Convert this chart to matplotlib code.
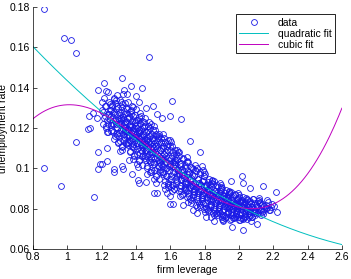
import numpy as np
import matplotlib.pyplot as plt

# firm leverage vs unemployment rate
lev_core = [
    1.21, 1.22, 1.23, 1.24, 1.245, 1.225, 1.235, 1.215, 1.248, 1.238,
    1.252, 1.258, 1.263, 1.267, 1.271, 1.275, 1.279, 1.283, 1.287, 1.291, 1.295, 1.298, 1.256, 1.269, 1.281, 1.293,
    1.301, 1.304, 1.308, 1.311, 1.314, 1.317, 1.320, 1.323, 1.326, 1.329, 1.332, 1.335, 1.338, 1.341, 1.344, 1.347, 1.349, 1.306, 1.318, 1.331, 1.343, 1.312, 1.327, 1.339,
    1.351, 1.354, 1.357, 1.360, 1.363, 1.366, 1.369, 1.372, 1.375, 1.378, 1.381, 1.384, 1.387, 1.390, 1.393, 1.396, 1.399, 1.353, 1.362, 1.371, 1.380, 1.389, 1.398, 1.358, 1.367, 1.376, 1.385, 1.394,
    1.401, 1.404, 1.407, 1.410, 1.413, 1.416, 1.419, 1.422, 1.425, 1.428, 1.431, 1.434, 1.437, 1.440, 1.443, 1.446, 1.449, 1.403, 1.412, 1.421, 1.430, 1.439, 1.448, 1.408, 1.417, 1.426, 1.435, 1.444,
    1.451, 1.454, 1.457, 1.460, 1.463, 1.466, 1.469, 1.472, 1.475, 1.478, 1.481, 1.484, 1.487, 1.490, 1.493, 1.496, 1.499, 1.453, 1.462, 1.471, 1.480, 1.489, 1.498, 1.458, 1.467, 1.476, 1.485, 1.494,
    1.501, 1.504, 1.507, 1.510, 1.513, 1.516, 1.519, 1.522, 1.525, 1.528, 1.531, 1.534, 1.537, 1.540, 1.543, 1.546, 1.549, 1.505, 1.515, 1.527, 1.539, 1.548, 1.511, 1.533,
    1.551, 1.554, 1.557, 1.560, 1.563, 1.566, 1.569, 1.572, 1.575, 1.578, 1.581, 1.584, 1.587, 1.590, 1.593, 1.596, 1.599, 1.556, 1.568, 1.580, 1.592, 1.562,
    1.601, 1.605, 1.609, 1.613, 1.617, 1.621, 1.625, 1.629, 1.633, 1.637, 1.641, 1.645, 1.649, 1.603, 1.615, 1.627, 1.639, 1.611, 1.635, 1.647,
    1.651, 1.655, 1.659, 1.663, 1.667, 1.671, 1.675, 1.679, 1.683, 1.687, 1.691, 1.695, 1.699, 1.653, 1.665, 1.677, 1.689, 1.661, 1.685, 1.697,
    1.701, 1.705, 1.709, 1.713, 1.717, 1.721, 1.725, 1.729, 1.733, 1.737, 1.741, 1.745, 1.749, 1.703, 1.715, 1.727, 1.739, 1.711, 1.735, 1.747,
    1.751, 1.755, 1.759, 1.763, 1.767, 1.771, 1.775, 1.779, 1.783, 1.787, 1.791, 1.795, 1.799, 1.753, 1.765, 1.777, 1.789, 1.761, 1.785, 1.797, 1.757, 1.793,
    1.801, 1.805, 1.809, 1.813, 1.817, 1.821, 1.825, 1.829, 1.833, 1.837, 1.841, 1.845, 1.849, 1.803, 1.815, 1.827, 1.839, 1.811, 1.835, 1.847, 1.807, 1.843,
    1.851, 1.855, 1.859, 1.863, 1.867, 1.871, 1.875, 1.879, 1.883, 1.887, 1.891, 1.895, 1.899, 1.853, 1.865, 1.877, 1.889, 1.861, 1.885, 1.897, 1.857, 1.893,
    1.901, 1.905, 1.909, 1.913, 1.917, 1.921, 1.925, 1.929, 1.933, 1.937, 1.941, 1.945, 1.949, 1.903, 1.915, 1.927, 1.939, 1.911, 1.935, 1.947, 1.907, 1.943,
    1.951, 1.955, 1.959, 1.963, 1.967, 1.971, 1.975, 1.979, 1.983, 1.987, 1.991, 1.995, 1.999, 1.953, 1.965, 1.977, 1.989, 1.961, 1.985, 1.997,
    2.001, 2.005, 2.009, 2.013, 2.017, 2.021, 2.025, 2.029, 2.033, 2.037, 2.041, 2.045, 2.049, 2.003, 2.015, 2.027, 2.039, 2.011,
    2.052, 2.057, 2.062, 2.067, 2.072, 2.077, 2.082, 2.087, 2.092, 2.097, 2.055, 2.070, 2.085,
    2.103, 2.110, 2.117, 2.124, 2.131, 2.138, 2.145, 2.114, 2.128,
    2.158, 2.166, 2.172, 2.185, 2.193, 2.202, 2.163, 2.178,
]
unemp_core = [
    0.128, 0.131, 0.124, 0.127, 0.133, 0.121, 0.118, 0.125, 0.129, 0.122,
    0.126, 0.119, 0.131, 0.122, 0.128, 0.116, 0.124, 0.134, 0.120, 0.127, 0.113, 0.125, 0.129, 0.118, 0.122, 0.130,
    0.122, 0.116, 0.128, 0.119, 0.125, 0.111, 0.132, 0.121, 0.117, 0.127, 0.114, 0.123, 0.120, 0.130, 0.112, 0.118, 0.125, 0.134, 0.109, 0.122, 0.116, 0.124, 0.137, 0.119,
    0.119, 0.113, 0.125, 0.116, 0.122, 0.108, 0.129, 0.118, 0.111, 0.121, 0.115, 0.126, 0.106, 0.120, 0.114, 0.123, 0.117, 0.133, 0.104, 0.127, 0.119, 0.110, 0.124, 0.116, 0.121, 0.131, 0.112, 0.118,
    0.1155, 0.1095, 0.1215, 0.1125, 0.1185, 0.1035, 0.1255, 0.1145, 0.1075, 0.1195, 0.1115, 0.1235, 0.1015, 0.1165, 0.1105, 0.1205, 0.1135, 0.1295, 0.1005, 0.1225, 0.1155, 0.1065, 0.1185, 0.1125, 0.1175, 0.1275, 0.1085, 0.1145,
    0.112, 0.106, 0.118, 0.109, 0.115, 0.100, 0.121, 0.111, 0.104, 0.116, 0.108, 0.120, 0.098, 0.113, 0.107, 0.117, 0.110, 0.125, 0.097, 0.119, 0.112, 0.103, 0.115, 0.109, 0.114, 0.123, 0.105, 0.111,
    0.108, 0.102, 0.114, 0.105, 0.111, 0.096, 0.117, 0.107, 0.100, 0.112, 0.104, 0.116, 0.095, 0.109, 0.103, 0.113, 0.106, 0.121, 0.093, 0.115, 0.099, 0.110, 0.119, 0.101,
    0.104, 0.098, 0.110, 0.101, 0.107, 0.092, 0.113, 0.103, 0.096, 0.108, 0.100, 0.112, 0.091, 0.105, 0.099, 0.109, 0.102, 0.117, 0.090, 0.111, 0.095, 0.115,
    0.101, 0.095, 0.106, 0.098, 0.103, 0.090, 0.109, 0.100, 0.093, 0.104, 0.097, 0.108, 0.089, 0.113, 0.092, 0.102, 0.096, 0.111, 0.105, 0.099,
    0.097, 0.092, 0.102, 0.095, 0.099, 0.087, 0.105, 0.096, 0.090, 0.100, 0.093, 0.103, 0.086, 0.108, 0.089, 0.098, 0.094, 0.101, 0.091, 0.097,
    0.093, 0.088, 0.098, 0.091, 0.095, 0.083, 0.100, 0.092, 0.086, 0.096, 0.089, 0.099, 0.082, 0.103, 0.085, 0.094, 0.090, 0.097, 0.087, 0.093,
    0.091, 0.086, 0.095, 0.089, 0.093, 0.081, 0.098, 0.090, 0.084, 0.094, 0.087, 0.096, 0.080, 0.100, 0.083, 0.092, 0.088, 0.095, 0.085, 0.091, 0.078, 0.099,
    0.088, 0.083, 0.092, 0.086, 0.090, 0.079, 0.095, 0.087, 0.081, 0.091, 0.084, 0.093, 0.078, 0.097, 0.080, 0.089, 0.085, 0.092, 0.082, 0.088, 0.076, 0.094,
    0.085, 0.081, 0.089, 0.083, 0.087, 0.077, 0.092, 0.084, 0.079, 0.088, 0.082, 0.090, 0.076, 0.094, 0.078, 0.086, 0.083, 0.089, 0.080, 0.085, 0.074, 0.091,
    0.0835, 0.0795, 0.0865, 0.0815, 0.0855, 0.0755, 0.0895, 0.0825, 0.0775, 0.0855, 0.0805, 0.0875, 0.0745, 0.0905, 0.0765, 0.0835, 0.0815, 0.0865, 0.0785, 0.0825, 0.0745, 0.0885,
    0.0815, 0.0785, 0.0845, 0.0805, 0.0835, 0.0755, 0.0875, 0.0815, 0.0765, 0.0845, 0.0795, 0.0855, 0.0745, 0.0885, 0.0755, 0.0825, 0.0805, 0.0845, 0.0775, 0.0815,
    0.081, 0.078, 0.084, 0.080, 0.083, 0.075, 0.086, 0.081, 0.076, 0.083, 0.079, 0.085, 0.075, 0.087, 0.077, 0.082, 0.080, 0.084,
    0.081, 0.078, 0.084, 0.080, 0.083, 0.076, 0.085, 0.079, 0.077, 0.082, 0.079, 0.081, 0.078,
    0.081, 0.078, 0.083, 0.080, 0.082, 0.079, 0.080, 0.084, 0.077,
    0.082, 0.0805, 0.0835, 0.081, 0.0825, 0.0815, 0.0845, 0.0795,
]

# second pass over the dense part of the cloud
lev_more = [
    1.202, 1.208, 1.214, 1.219, 1.226, 1.231, 1.237, 1.243, 1.249, 1.205, 1.228, 1.246,
    1.251, 1.255, 1.259, 1.262, 1.266, 1.270, 1.273, 1.277, 1.281, 1.285, 1.289, 1.292, 1.296, 1.299, 1.254, 1.276, 1.288,
    1.302, 1.305, 1.309, 1.313, 1.316, 1.319, 1.322, 1.325, 1.328, 1.331, 1.334, 1.337, 1.340, 1.343, 1.346, 1.349, 1.307, 1.324, 1.336, 1.345,
    1.352, 1.355, 1.358, 1.361, 1.364, 1.367, 1.370, 1.373, 1.376, 1.379, 1.382, 1.385, 1.388, 1.391, 1.394, 1.397, 1.356, 1.368, 1.383, 1.395, 1.365,
    1.402, 1.405, 1.408, 1.411, 1.414, 1.417, 1.420, 1.423, 1.426, 1.429, 1.432, 1.435, 1.438, 1.441, 1.444, 1.447, 1.406, 1.418, 1.433, 1.445, 1.415,
    1.452, 1.455, 1.458, 1.461, 1.464, 1.467, 1.470, 1.473, 1.476, 1.479, 1.482, 1.485, 1.488, 1.491, 1.494, 1.497, 1.456, 1.468, 1.483, 1.495, 1.465,
    1.502, 1.505, 1.508, 1.511, 1.514, 1.517, 1.520, 1.523, 1.526, 1.529, 1.532, 1.535, 1.538, 1.541, 1.544, 1.547, 1.506, 1.518, 1.533, 1.545,
    1.552, 1.555, 1.558, 1.561, 1.564, 1.567, 1.570, 1.573, 1.576, 1.579, 1.582, 1.585, 1.588, 1.591, 1.594, 1.597, 1.556, 1.574, 1.589,
    1.602, 1.606, 1.610, 1.614, 1.618, 1.622, 1.626, 1.630, 1.634, 1.638, 1.642, 1.646, 1.604, 1.620, 1.636, 1.648, 1.612, 1.628,
    1.652, 1.656, 1.660, 1.664, 1.668, 1.672, 1.676, 1.680, 1.684, 1.688, 1.692, 1.696, 1.654, 1.670, 1.686, 1.698, 1.662,
    1.702, 1.706, 1.710, 1.714, 1.718, 1.722, 1.726, 1.730, 1.734, 1.738, 1.742, 1.746, 1.704, 1.720, 1.736, 1.748, 1.712,
    1.752, 1.756, 1.760, 1.764, 1.768, 1.772, 1.776, 1.780, 1.784, 1.788, 1.792, 1.796, 1.754, 1.770, 1.786, 1.798, 1.762, 1.778,
    1.802, 1.806, 1.810, 1.814, 1.818, 1.822, 1.826, 1.830, 1.834, 1.838, 1.842, 1.846, 1.804, 1.820, 1.836, 1.848, 1.812, 1.828,
    1.852, 1.856, 1.860, 1.864, 1.868, 1.872, 1.876, 1.880, 1.884, 1.888, 1.892, 1.896, 1.854, 1.870, 1.886, 1.898, 1.862, 1.878,
    1.902, 1.906, 1.910, 1.914, 1.918, 1.922, 1.926, 1.930, 1.934, 1.938, 1.942, 1.946, 1.904, 1.920, 1.936, 1.948, 1.912, 1.928,
    1.952, 1.956, 1.960, 1.964, 1.968, 1.972, 1.976, 1.980, 1.984, 1.988, 1.992, 1.996, 1.954, 1.970, 1.986, 1.998, 1.962, 1.978,
    2.002, 2.006, 2.010, 2.014, 2.018, 2.022, 2.026, 2.030, 2.034, 2.038, 2.042, 2.046, 2.004, 2.020, 2.036, 2.048,
    2.051, 2.056, 2.061, 2.066, 2.071, 2.076, 2.081, 2.086, 2.091, 2.096, 2.059, 2.079, 2.094,
    2.106, 2.113, 2.121, 2.127, 2.135, 2.142, 2.149, 2.156, 2.119, 2.133,
]
unemp_more = [
    0.129, 0.122, 0.135, 0.126, 0.131, 0.118, 0.138, 0.127, 0.124, 0.133, 0.120, 0.132,
    0.1255, 0.1185, 0.1315, 0.1225, 0.1275, 0.1145, 0.1345, 0.1235, 0.1205, 0.1295, 0.1165, 0.1365, 0.1125, 0.1245, 0.1215, 0.1325, 0.1175,
    0.1175, 0.1265, 0.1135, 0.1225, 0.1305, 0.1105, 0.1245, 0.1195, 0.1285, 0.1155, 0.1325, 0.1205, 0.1125, 0.1235, 0.1165, 0.1275, 0.1085, 0.1255, 0.1185, 0.1295,
    0.1195, 0.1125, 0.1255, 0.1165, 0.1215, 0.1085, 0.1285, 0.1175, 0.1145, 0.1235, 0.1105, 0.1305, 0.1065, 0.1185, 0.1155, 0.1265, 0.1115, 0.1205, 0.1045, 0.1225, 0.1135,
    0.111, 0.120, 0.107, 0.116, 0.124, 0.104, 0.118, 0.113, 0.122, 0.109, 0.126, 0.114, 0.106, 0.117, 0.110, 0.121, 0.102, 0.119, 0.112, 0.123, 0.115,
    0.112, 0.105, 0.118, 0.109, 0.114, 0.101, 0.121, 0.110, 0.107, 0.116, 0.103, 0.122, 0.099, 0.111, 0.108, 0.119, 0.104, 0.113, 0.098, 0.115, 0.106,
    0.103, 0.112, 0.099, 0.108, 0.116, 0.096, 0.110, 0.105, 0.114, 0.101, 0.117, 0.106, 0.098, 0.109, 0.102, 0.113, 0.095, 0.111, 0.104, 0.115,
    0.105, 0.098, 0.111, 0.102, 0.107, 0.094, 0.113, 0.103, 0.100, 0.109, 0.096, 0.114, 0.093, 0.104, 0.101, 0.111, 0.097, 0.106, 0.092,
    0.096, 0.105, 0.092, 0.101, 0.108, 0.090, 0.103, 0.098, 0.107, 0.094, 0.109, 0.099, 0.091, 0.102, 0.095, 0.106, 0.089, 0.104,
    0.0975, 0.0905, 0.1025, 0.0945, 0.0995, 0.0875, 0.1045, 0.0955, 0.0925, 0.1015, 0.0895, 0.1055, 0.0865, 0.0965, 0.0935, 0.1035, 0.0915,
    0.0895, 0.0985, 0.0865, 0.0945, 0.1005, 0.0845, 0.0965, 0.0915, 0.0995, 0.0875, 0.1015, 0.0925, 0.0835, 0.0955, 0.0885, 0.0985, 0.0905,
    0.091, 0.085, 0.095, 0.088, 0.093, 0.082, 0.097, 0.089, 0.086, 0.094, 0.083, 0.098, 0.081, 0.090, 0.087, 0.096, 0.084, 0.092,
    0.0835, 0.0915, 0.0805, 0.0885, 0.0935, 0.0795, 0.0905, 0.0855, 0.0925, 0.0815, 0.0945, 0.0865, 0.0785, 0.0895, 0.0825, 0.0925, 0.0845, 0.0875,
    0.086, 0.080, 0.089, 0.083, 0.088, 0.078, 0.091, 0.084, 0.081, 0.089, 0.078, 0.092, 0.077, 0.085, 0.082, 0.090, 0.079, 0.087,
    0.0788, 0.0868, 0.0768, 0.0838, 0.0878, 0.0758, 0.0858, 0.0808, 0.0868, 0.0778, 0.0888, 0.0818, 0.0748, 0.0848, 0.0788, 0.0878, 0.0798, 0.0828,
    0.0828, 0.0768, 0.0858, 0.0798, 0.0838, 0.0758, 0.0868, 0.0808, 0.0778, 0.0848, 0.0758, 0.0878, 0.0748, 0.0818, 0.0788, 0.0858, 0.0768, 0.0828,
    0.0775, 0.0835, 0.0755, 0.0815, 0.0845, 0.0755, 0.0825, 0.0785, 0.0835, 0.0765, 0.0855, 0.0795, 0.0745, 0.0815, 0.0775, 0.0845,
    0.0818, 0.0768, 0.0838, 0.0788, 0.0828, 0.0758, 0.0848, 0.0798, 0.0778, 0.0828, 0.0758, 0.0808, 0.0788,
    0.0815, 0.0785, 0.0835, 0.0795, 0.0825, 0.0775, 0.0815, 0.0805, 0.0845, 0.0785,
]

# scattered points away from the main cloud
lev_out = [
    0.866, 0.982, 1.021, 1.052, 1.477, 1.437, 1.32, 1.213, 1.177, 1.225,
    1.608, 1.50, 1.118, 1.13, 1.148, 1.127, 1.171, 1.664, 1.598, 0.866,
    0.961, 1.05, 1.155, 1.18, 1.19, 1.2, 1.18, 1.229, 1.233, 1.273,
    1.273, 1.326, 1.317, 1.375, 1.413, 1.42, 1.505, 1.52, 1.456, 1.598,
    1.617, 1.58, 1.6, 1.675, 1.734, 1.84, 1.908, 1.957, 2.025, 2.103,
    2.07, 2.215, 2.223, 2.18, 2.138, 2.118, 2.064, 2.016, 2.025, 1.953,
    1.889, 1.772, 1.782, 1.717, 1.6, 1.27, 1.29, 1.33, 1.35, 1.37,
    1.40, 1.31, 1.42, 1.46, 1.55, 1.52,
]
unemp_out = [
    0.1789, 0.1648, 0.1636, 0.157, 0.1552, 0.140, 0.145, 0.1425, 0.139, 0.1385,
    0.1334, 0.131, 0.1194, 0.1198, 0.1275, 0.126, 0.1248, 0.1245, 0.126, 0.1003,
    0.0913, 0.1132, 0.0857, 0.108, 0.1022, 0.1024, 0.0995, 0.110, 0.1036, 0.0995,
    0.098, 0.0995, 0.101, 0.0972, 0.0942, 0.093, 0.088, 0.0878, 0.0934, 0.0823,
    0.0822, 0.0876, 0.0865, 0.0818, 0.0794, 0.0757, 0.0741, 0.0711, 0.0694, 0.0724,
    0.074, 0.0881, 0.0785, 0.0794, 0.0913, 0.0851, 0.0901, 0.0964, 0.0926, 0.0939,
    0.0926, 0.1083, 0.1013, 0.1137, 0.114, 0.135, 0.131, 0.139, 0.137, 0.141,
    0.136, 0.133, 0.133, 0.130, 0.125, 0.127,
]

x = np.array(lev_core + lev_more + lev_out)
y = np.array(unemp_core + unemp_more + unemp_out)

p2 = np.polyfit(x, y, 2)
p3 = np.polyfit(x, y, 3)
xf = np.linspace(0.8, 2.6, 200)

plt.rcParams["font.family"] = ["Liberation Sans", "DejaVu Sans"]
plt.rcParams["font.size"] = 7.5

fig = plt.figure(figsize=(3.51, 2.79), dpi=100)
ax = fig.add_axes([0.094, 0.107, 0.880, 0.868])

ax.plot(x, y, "o", mfc="none", mec="#1a1ae6", ms=4.2, mew=0.6, label="data")
ax.plot(xf, np.polyval(p2, xf), color=(0, 0.75, 0.75), lw=0.7, label="quadratic fit")
ax.plot(xf, np.polyval(p3, xf), color=(0.75, 0, 0.75), lw=0.7, label="cubic fit")

ax.set_xlim(0.8, 2.6)
ax.set_ylim(0.06, 0.18)
ax.set_xticks(np.arange(0.8, 2.61, 0.2))
ax.set_xticklabels(["0.8", "1", "1.2", "1.4", "1.6", "1.8", "2", "2.2", "2.4", "2.6"])
ax.set_yticks(np.arange(0.06, 0.181, 0.02))
ax.set_yticklabels(["0.06", "0.08", "0.1", "0.12", "0.14", "0.16", "0.18"])
ax.tick_params(direction="in", length=3, width=0.5, pad=2)
ax.spines["top"].set_visible(False)
ax.spines["right"].set_visible(False)
for s in ("left", "bottom"):
    ax.spines[s].set_linewidth(0.5)

ax.set_xlabel("firm leverage", labelpad=2)
ax.set_ylabel("unemployment rate", labelpad=1)

leg = ax.legend(loc="upper right", bbox_to_anchor=(0.985, 0.98), fancybox=False,
                framealpha=1, edgecolor="black", borderpad=0.35, labelspacing=0.1,
                handlelength=2.8, handletextpad=0.9, borderaxespad=0.2, fontsize=7.5)
leg.get_frame().set_linewidth(0.6)

fig.savefig("out.png", dpi=100)
